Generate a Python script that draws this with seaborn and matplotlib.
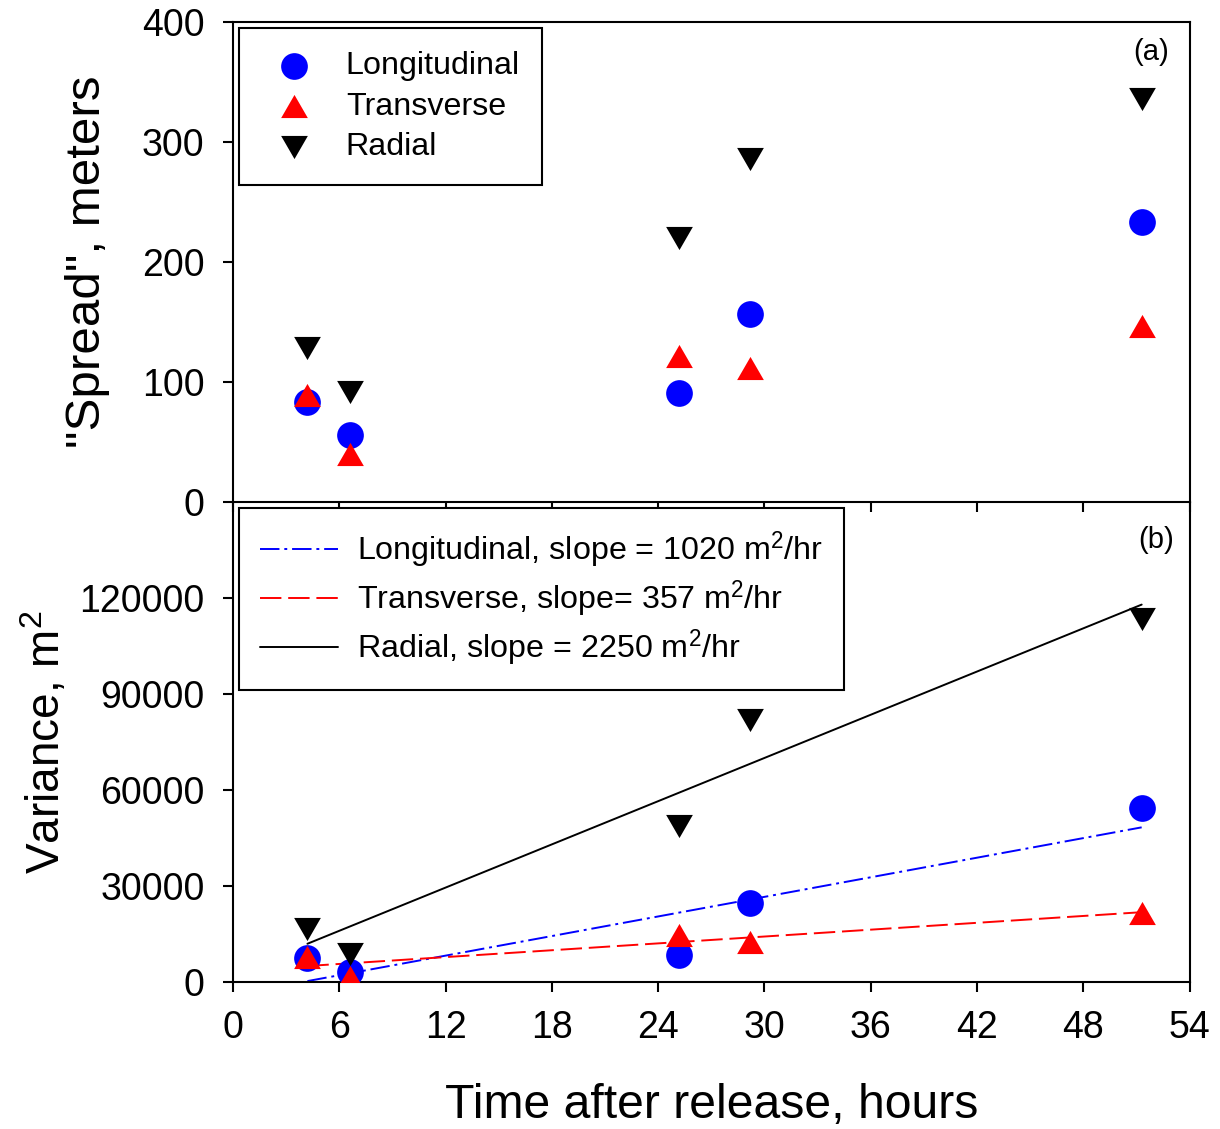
import matplotlib
matplotlib.use("Agg")
import matplotlib.pyplot as plt
import seaborn as sns
import pandas as pd
import numpy as np

# ---- data ----
time_hr = [4.2, 6.6, 25.2, 29.2, 51.3]
spread_long = [83, 56, 91, 157, 233]
spread_trans = [89, 40, 122, 112, 147]
spread_rad = [128, 92, 220, 286, 336]
var_long = [7400, 3000, 8300, 24800, 54400]
var_trans = [7700, 1500, 14800, 12600, 21500]
var_rad = [16700, 8600, 48600, 81800, 113500]
fit_names = ["Longitudinal", "Transverse", "Radial"]
fit_slopes = [1020, 357, 2250]
fit_intercepts = [-4000, 3500, 2500]
fit_range = [4.2, 51.3]
x_ticks = [0, 6, 12, 18, 24, 30, 36, 42, 48, 54]
y_ticks_top = [0, 100, 200, 300, 400]
y_ticks_bot = [0, 30000, 60000, 90000, 120000]

df = pd.DataFrame({"t": time_hr, "sl": spread_long, "st": spread_trans, "sr": spread_rad,
                   "vl": var_long, "vt": var_trans, "vr": var_rad})

sns.set_style("ticks")
plt.rcParams["font.family"] = ["Liberation Sans", "DejaVu Sans"]
plt.rcParams["mathtext.fontset"] = "custom"
plt.rcParams["mathtext.rm"] = "Liberation Sans"
plt.rcParams["mathtext.it"] = "Liberation Sans:italic"
plt.rcParams["axes.linewidth"] = 1.5
for k in ["text.color", "axes.labelcolor", "xtick.color", "ytick.color", "axes.edgecolor"]:
    plt.rcParams[k] = "black"

fig = plt.figure(figsize=(12.2, 11.29), dpi=100)
ax1 = fig.add_axes([0.191, 0.5554, 0.784, 0.4251])
ax2 = fig.add_axes([0.191, 0.1302, 0.784, 0.4252])
ax2.patch.set_alpha(0)

tri_up = [(-1, -0.866), (1, -0.866), (0, 0.866)]
tri_dn = [(-1, 0.866), (1, 0.866), (0, -0.866)]
S = 370

# top panel
sns.scatterplot(data=df, x="t", y="sl", ax=ax1, color="blue", marker="o", s=S,
                linewidth=0, label="Longitudinal", zorder=3)
sns.scatterplot(data=df, x="t", y="st", ax=ax1, color="red", marker=tri_up, s=S,
                linewidth=0, label="Transverse", zorder=4)
sns.scatterplot(data=df, x="t", y="sr", ax=ax1, color="black", marker=tri_dn, s=S,
                linewidth=0, label="Radial", zorder=5)

# bottom panel: fits
styles = [dict(color="blue", linestyle=(0, (10, 2.5, 1.5, 2.5))),
          dict(color="red", linestyle=(0, (11, 3.5))),
          dict(color="black", linestyle="-")]
fx = np.array(fit_range)
for name, m, b, st in zip(fit_names, fit_slopes, fit_intercepts, styles):
    sep = "" if name == "Transverse" else " "
    lab = f"{name}, slope{sep}= {m} m$^2$/hr"
    ax2.plot(fx, m * fx + b, lw=1.4, label=lab, zorder=2, **st)

sns.scatterplot(data=df, x="t", y="vl", ax=ax2, color="blue", marker="o", s=S,
                linewidth=0, zorder=3, legend=False)
sns.scatterplot(data=df, x="t", y="vt", ax=ax2, color="red", marker=tri_up, s=S,
                linewidth=0, zorder=4, legend=False)
sns.scatterplot(data=df, x="t", y="vr", ax=ax2, color="black", marker=tri_dn, s=S,
                linewidth=0, zorder=5, legend=False)

for ax in (ax1, ax2):
    ax.set_xlim(0, 54)
    ax.set_xticks(x_ticks)
    ax.tick_params(axis="both", direction="out", length=7.5, width=1.5,
                   labelsize=27, pad=13, right=False, top=False,
                   color="black", labelcolor="black")
    for sp in ax.spines.values():
        sp.set_color("black")
        sp.set_linewidth(1.5)

ax1.set_ylim(0, 400)
ax1.set_yticks(y_ticks_top)
ax1.tick_params(axis="x", labelbottom=False)
ax1.set_xlabel("")
ax1.set_ylabel('"Spread", meters', fontsize=35.5, labelpad=23)

ax2.set_ylim(0, 150000)
ax2.set_yticks(y_ticks_bot)
ax2.spines["top"].set_visible(False)
ax2.set_xlabel("Time after release, hours", fontsize=34.7, labelpad=26)
ax2.set_ylabel("Variance, m$^2$", fontsize=33, labelpad=7)

leg1 = ax1.legend(loc="upper left", fontsize=23.2, frameon=True, fancybox=False,
                  edgecolor="black", framealpha=1, borderpad=0.7, labelspacing=0.33,
                  handletextpad=0.6, handlelength=2.0, borderaxespad=0.2)
leg1.get_frame().set_linewidth(1.5)

leg2 = ax2.legend(loc="upper left", fontsize=23.2, frameon=True, fancybox=False,
                  edgecolor="black", framealpha=1, borderpad=0.65, labelspacing=0.23,
                  handletextpad=0.6, handlelength=2.4, borderaxespad=0.2)
leg2.get_frame().set_linewidth(1.5)

ax1.text(0.96, 0.9375, "(a)", transform=ax1.transAxes, fontsize=21,
         ha="center", va="center")
ax2.text(0.9655, 0.921, "(b)", transform=ax2.transAxes, fontsize=21,
         ha="center", va="center")

fig.savefig("out.png", dpi=100)
